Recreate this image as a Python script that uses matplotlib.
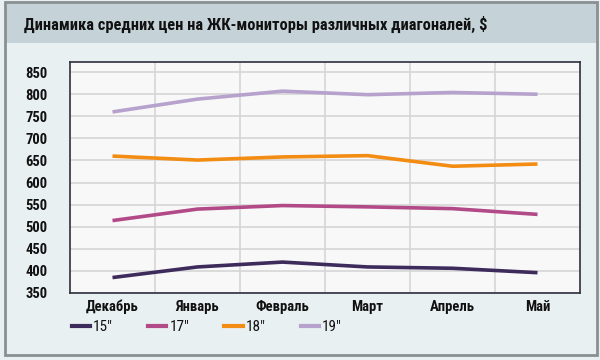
import matplotlib
matplotlib.use("Agg")
import matplotlib.pyplot as plt
from matplotlib.patches import Rectangle
from matplotlib.lines import Line2D

plt.rcParams['font.family'] = ['Roboto Condensed', 'DejaVu Sans']

# data
months = ["Декабрь", "Январь", "Февраль", "Март", "Апрель", "Май"]
series_names = ['15"', '17"', '18"', '19"']
prices_15 = [385, 409, 420, 409, 406, 396]
prices_17 = [514, 540, 548, 545, 541, 528]
prices_18 = [660, 651, 658, 661, 637, 642]
prices_19 = [760, 789, 807, 799, 804, 800]
colors = ["#3d2b5c", "#b24a88", "#f28c12", "#b6a2cc"]
y_ticks = list(range(350, 851, 50))

W, H = 600, 360
fig = plt.figure(figsize=(W / 100, H / 100), dpi=100)
fig.patch.set_facecolor("#e9f0f2")


def fx(px):
    return px / W


def fy(py):
    return 1 - py / H


# title band + outer frame
fig.patches.append(Rectangle((fx(5), fy(43)), fx(592), 41 / H, transform=fig.transFigure,
                             facecolor="#c5d3d8", edgecolor="none", zorder=0))
fig.patches.append(Rectangle((fx(5), fy(355)), fx(592), 353 / H, transform=fig.transFigure,
                             facecolor="none", edgecolor="#8a8f92", linewidth=2, zorder=5))
fig.text(fx(24), fy(24), "Динамика средних цен на ЖК-мониторы различных диагоналей, $",
         fontsize=11.8, fontweight="bold", va="center", ha="left", color="#111111")

ax = fig.add_axes([fx(70), fy(293), fx(510), 231 / H])
ax.set_facecolor("#f8f8f8")

x = list(range(len(months)))
all_series = [prices_15, prices_17, prices_18, prices_19]
for vals, c, name in zip(all_series, colors, series_names):
    ax.plot(x, vals, color=c, linewidth=2.6, label=name, zorder=3, solid_capstyle="butt")

ax.set_xlim(-0.5, len(months) - 0.5)
ax.set_ylim(350, 873)
ax.set_yticks(y_ticks)
ax.set_yticklabels([str(v) for v in y_ticks], fontsize=10.5, fontweight="bold")
ax.set_xticks(x)
ax.set_xticklabels(months, fontsize=10.5, fontweight="bold")
ax.set_xticks([i + 0.5 for i in range(len(months) - 1)], minor=True)
ax.tick_params(axis="both", which="both", length=0, labelcolor="#111111")
ax.tick_params(axis="y", pad=16)
ax.tick_params(axis="x", pad=5)
ax.grid(axis="y", which="major", color="#d6d6d6", linewidth=1.2, zorder=1)
ax.grid(axis="x", which="minor", color="#d6d6d6", linewidth=1.2, zorder=1)
for s in ax.spines.values():
    s.set_color("#2f2f3f")
    s.set_linewidth(1.2)

# legend
handles = [Line2D([0], [0], color=c, linewidth=3) for c in colors]
fig.legend(handles, series_names, loc="center left", bbox_to_anchor=(fx(58), fy(327)),
           ncol=4, frameon=False, fontsize=11, handlelength=1.2, handletextpad=0.2,
           columnspacing=2.3, labelcolor="#111111")

fig.savefig("out.png", dpi=100, facecolor=fig.get_facecolor())
